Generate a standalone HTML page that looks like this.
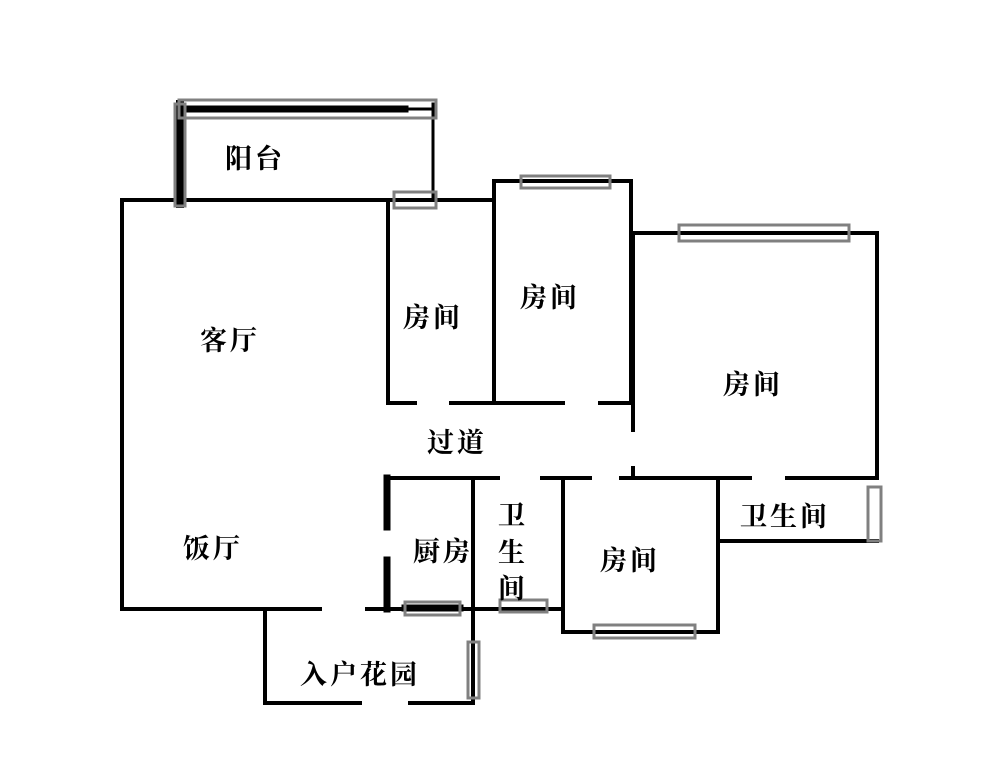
<!DOCTYPE html>
<html><head><meta charset="utf-8"><style>
html,body{margin:0;padding:0;background:#fff;}
svg{display:block}
text{font-family:"Liberation Serif","Noto Serif CJK SC",serif;font-size:27px;font-weight:bold;letter-spacing:3px;fill:#000;}
</style></head><body>
<svg width="1000" height="768" viewBox="0 0 1000 768" xmlns="http://www.w3.org/2000/svg">
<g stroke="#000" stroke-width="4" fill="none" stroke-linecap="square">
<line x1="180" y1="109" x2="405" y2="109" stroke-width="7"/>
<line x1="405" y1="109" x2="434" y2="109" stroke-width="3"/>
<line x1="180" y1="104" x2="180" y2="204" stroke-width="8"/>
<line x1="433" y1="104" x2="433" y2="200" stroke-width="3"/>
<line x1="122" y1="200" x2="493" y2="200"/>
<line x1="122" y1="200" x2="122" y2="609"/>
<line x1="122" y1="609" x2="320" y2="609"/>
<line x1="367" y1="609" x2="563" y2="609"/>
<line x1="388" y1="200" x2="388" y2="403"/>
<line x1="388" y1="403" x2="415" y2="403"/>
<line x1="451" y1="403" x2="563" y2="403"/>
<line x1="600" y1="403" x2="631" y2="403"/>
<line x1="494" y1="181" x2="494" y2="403"/>
<line x1="494" y1="181" x2="631" y2="181"/>
<line x1="631" y1="181" x2="631" y2="403"/>
<line x1="633" y1="233" x2="633" y2="430"/>
<line x1="633" y1="468" x2="633" y2="478"/>
<line x1="633" y1="233" x2="877" y2="233"/>
<line x1="877" y1="233" x2="877" y2="478"/>
<line x1="560" y1="478" x2="590" y2="478"/>
<line x1="621" y1="478" x2="750" y2="478"/>
<line x1="787" y1="478" x2="877" y2="478"/>
<line x1="388" y1="478" x2="498" y2="478"/>
<line x1="542" y1="478" x2="590" y2="478"/>
<line x1="387" y1="478" x2="387" y2="527" stroke-width="7"/>
<line x1="387" y1="560" x2="387" y2="609" stroke-width="7"/>
<line x1="473" y1="478" x2="473" y2="703"/>
<line x1="563" y1="478" x2="563" y2="632"/>
<line x1="563" y1="632" x2="718" y2="632"/>
<line x1="718" y1="478" x2="718" y2="632"/>
<line x1="718" y1="541" x2="877" y2="541"/>
<line x1="265" y1="609" x2="265" y2="703"/>
<line x1="265" y1="703" x2="360" y2="703"/>
<line x1="410" y1="703" x2="473" y2="703"/>
<line x1="405" y1="608" x2="460" y2="608" stroke-width="7"/>
</g>
<g stroke="#808080" stroke-width="3" fill="none">
<rect x="179" y="100" width="257" height="18"/>
<rect x="175" y="104" width="10" height="102"/>
<rect x="394" y="192" width="42" height="16"/>
<rect x="521" y="176" width="89" height="12"/>
<rect x="679" y="225" width="170" height="16"/>
<rect x="405" y="602" width="55" height="13"/>
<rect x="500" y="600" width="47" height="12"/>
<rect x="594" y="625" width="101" height="13"/>
<rect x="468" y="642" width="11" height="56"/>
<rect x="868" y="487" width="13" height="54"/>
</g>
<g>
<text x="225" y="168">阳台</text>
<text x="200" y="350">客厅</text>
<text x="403" y="327">房间</text>
<text x="520" y="307">房间</text>
<text x="723" y="394">房间</text>
<text x="427" y="452">过道</text>
<text x="183" y="558">饭厅</text>
<text x="413" y="561">厨房</text>
<text x="498" y="525">卫</text>
<text x="498" y="562">生</text>
<text x="498" y="598">间</text>
<text x="600" y="570">房间</text>
<text x="740" y="526">卫生间</text>
<text x="300" y="684">入户花园</text>
</g>
</svg>
</body></html>
